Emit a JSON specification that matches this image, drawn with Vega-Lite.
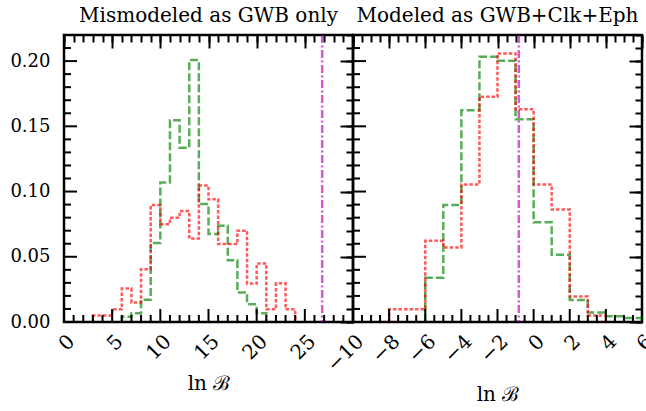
{
  "$schema": "https://vega.github.io/schema/vega-lite/v6.json",
  "padding": {"left": 8, "top": 4, "right": 5, "bottom": 2},
  "bounds": "flush",
  "background": "white",
  "config": {
    "view": {"stroke": "black", "strokeWidth": 2.5},
    "concat": {"spacing": 0},
    "axis": {
      "domain": false, "grid": false, "ticks": true,
      "tickColor": "black", "tickWidth": 2,
      "labelFont": "DejaVu Serif", "labelFontSize": 18, "labelColor": "black",
      "titleFont": "DejaVu Serif", "titleFontSize": 20, "titleColor": "black", "titleFontWeight": "normal",
      "labelFlush": false, "labelOverlap": false, "labelBound": false
    },
    "title": {"font": "DejaVu Serif", "fontSize": 20, "fontWeight": "normal", "color": "black", "offset": 8}
  },
  "datasets": {
    "left": [
      {"s": "g", "x": 6, "y": 0}, {"s": "g", "x": 6, "y": 0.004}, {"s": "g", "x": 7, "y": 0.0067}, {"s": "g", "x": 8, "y": 0.017},
      {"s": "g", "x": 9, "y": 0.0605}, {"s": "g", "x": 10, "y": 0.107}, {"s": "g", "x": 11, "y": 0.1546}, {"s": "g", "x": 12, "y": 0.1336},
      {"s": "g", "x": 13, "y": 0.2008}, {"s": "g", "x": 14, "y": 0.0905}, {"s": "g", "x": 15, "y": 0.0674}, {"s": "g", "x": 16, "y": 0.0738},
      {"s": "g", "x": 17, "y": 0.0474}, {"s": "g", "x": 18, "y": 0.0226}, {"s": "g", "x": 19, "y": 0.0136}, {"s": "g", "x": 20, "y": 0.0067},
      {"s": "g", "x": 21, "y": 0},
      {"s": "r", "x": 3, "y": 0}, {"s": "r", "x": 3, "y": 0.005}, {"s": "r", "x": 4, "y": 0.005}, {"s": "r", "x": 5, "y": 0.0097},
      {"s": "r", "x": 6, "y": 0.0256}, {"s": "r", "x": 7, "y": 0.015}, {"s": "r", "x": 8, "y": 0.0405}, {"s": "r", "x": 9, "y": 0.0897},
      {"s": "r", "x": 10, "y": 0.075}, {"s": "r", "x": 11, "y": 0.08}, {"s": "r", "x": 12, "y": 0.085}, {"s": "r", "x": 13, "y": 0.064},
      {"s": "r", "x": 14, "y": 0.1046}, {"s": "r", "x": 15, "y": 0.094}, {"s": "r", "x": 16, "y": 0.0597}, {"s": "r", "x": 17, "y": 0.0597},
      {"s": "r", "x": 18, "y": 0.07}, {"s": "r", "x": 19, "y": 0.0295}, {"s": "r", "x": 20, "y": 0.0449}, {"s": "r", "x": 21, "y": 0.0097},
      {"s": "r", "x": 22, "y": 0.0297}, {"s": "r", "x": 23, "y": 0.0097}, {"s": "r", "x": 24, "y": 0}
    ],
    "right": [
      {"s": "g", "x": -6, "y": 0}, {"s": "g", "x": -6, "y": 0.034}, {"s": "g", "x": -5, "y": 0.0897}, {"s": "g", "x": -4, "y": 0.1623},
      {"s": "g", "x": -3, "y": 0.2033}, {"s": "g", "x": -2, "y": 0.2003}, {"s": "g", "x": -1, "y": 0.1554}, {"s": "g", "x": 0, "y": 0.0764},
      {"s": "g", "x": 1, "y": 0.0515}, {"s": "g", "x": 2, "y": 0.0169}, {"s": "g", "x": 3, "y": 0.0072}, {"s": "g", "x": 4, "y": 0.0045},
      {"s": "g", "x": 5, "y": 0.003}, {"s": "g", "x": 6, "y": 0},
      {"s": "r", "x": -8, "y": 0}, {"s": "r", "x": -8, "y": 0.0097}, {"s": "r", "x": -7, "y": 0.0097}, {"s": "r", "x": -6, "y": 0.0623},
      {"s": "r", "x": -5, "y": 0.0572}, {"s": "r", "x": -4, "y": 0.1054}, {"s": "r", "x": -3, "y": 0.1726}, {"s": "r", "x": -2, "y": 0.2059},
      {"s": "r", "x": -1, "y": 0.163}, {"s": "r", "x": 0, "y": 0.1054}, {"s": "r", "x": 1, "y": 0.0862}, {"s": "r", "x": 2, "y": 0.0195},
      {"s": "r", "x": 3, "y": 0.005}, {"s": "r", "x": 4, "y": 0}
    ],
    "xticksLeft": [
      {"t": 0, "major": true}, {"t": 1, "major": false}, {"t": 2, "major": false}, {"t": 3, "major": false}, {"t": 4, "major": false},
      {"t": 5, "major": true}, {"t": 6, "major": false}, {"t": 7, "major": false}, {"t": 8, "major": false}, {"t": 9, "major": false},
      {"t": 10, "major": true}, {"t": 11, "major": false}, {"t": 12, "major": false}, {"t": 13, "major": false}, {"t": 14, "major": false},
      {"t": 15, "major": true}, {"t": 16, "major": false}, {"t": 17, "major": false}, {"t": 18, "major": false}, {"t": 19, "major": false},
      {"t": 20, "major": true}, {"t": 21, "major": false}, {"t": 22, "major": false}, {"t": 23, "major": false}, {"t": 24, "major": false},
      {"t": 25, "major": true}, {"t": 26, "major": false}, {"t": 27, "major": false}, {"t": 28, "major": false}, {"t": 29, "major": false},
      {"t": 30, "major": true}
    ],
    "xticksRight": [
      {"t": -10, "major": true}, {"t": -9.5, "major": false}, {"t": -9, "major": false}, {"t": -8.5, "major": false},
      {"t": -8, "major": true}, {"t": -7.5, "major": false}, {"t": -7, "major": false}, {"t": -6.5, "major": false},
      {"t": -6, "major": true}, {"t": -5.5, "major": false}, {"t": -5, "major": false}, {"t": -4.5, "major": false},
      {"t": -4, "major": true}, {"t": -3.5, "major": false}, {"t": -3, "major": false}, {"t": -2.5, "major": false},
      {"t": -2, "major": true}, {"t": -1.5, "major": false}, {"t": -1, "major": false}, {"t": -0.5, "major": false},
      {"t": 0, "major": true}, {"t": 0.5, "major": false}, {"t": 1, "major": false}, {"t": 1.5, "major": false},
      {"t": 2, "major": true}, {"t": 2.5, "major": false}, {"t": 3, "major": false}, {"t": 3.5, "major": false},
      {"t": 4, "major": true}, {"t": 4.5, "major": false}, {"t": 5, "major": false}, {"t": 5.5, "major": false},
      {"t": 6, "major": true}
    ],
    "yticks": [
      {"t": 0, "major": true}, {"t": 0.01, "major": false}, {"t": 0.02, "major": false}, {"t": 0.03, "major": false}, {"t": 0.04, "major": false},
      {"t": 0.05, "major": true}, {"t": 0.06, "major": false}, {"t": 0.07, "major": false}, {"t": 0.08, "major": false}, {"t": 0.09, "major": false},
      {"t": 0.1, "major": true}, {"t": 0.11, "major": false}, {"t": 0.12, "major": false}, {"t": 0.13, "major": false}, {"t": 0.14, "major": false},
      {"t": 0.15, "major": true}, {"t": 0.16, "major": false}, {"t": 0.17, "major": false}, {"t": 0.18, "major": false}, {"t": 0.19, "major": false},
      {"t": 0.2, "major": true}, {"t": 0.21, "major": false}, {"t": 0.22, "major": false}
    ]
  },
  "hconcat": [
    {
      "width": 289, "height": 287,
      "title": "Mismodeled as GWB only",
      "data": {"name": "left"},
      "resolve": {"axis": {"x": "independent", "y": "independent"}},
      "layer": [
        {
          "transform": [{"filter": "datum.s === 'g'"}],
          "mark": {"type": "line", "interpolate": "step-after", "color": "green", "opacity": 0.65, "strokeWidth": 2.5, "strokeDash": [8, 3]},
          "encoding": {
            "x": {"field": "x", "type": "quantitative", "scale": {"domain": [0, 30], "nice": false, "zero": false},
                  "axis": {"orient": "bottom", "values": [0, 5, 10, 15, 20, 25], "format": "d", "ticks": false,
                           "labelAngle": -45, "labelFontSize": 20, "labelPadding": 9, "titlePadding": 10, "title": "ln ℬ"}},
            "y": {"field": "y", "type": "quantitative", "scale": {"domain": [0, 0.22], "nice": false},
                  "axis": {"orient": "left", "values": [0, 0.05, 0.1, 0.15, 0.2], "format": ".2f", "ticks": false,
                           "labelPadding": 14, "title": null}},
            "order": {"value": null}
          }
        },
        {
          "transform": [{"filter": "datum.s === 'r'"}],
          "mark": {"type": "line", "interpolate": "step-after", "color": "red", "opacity": 0.65, "strokeWidth": 2.5, "strokeDash": [3.5, 2]},
          "encoding": {
            "x": {"field": "x", "type": "quantitative",
                  "axis": {"orient": "top", "values": [0, 5, 10, 15, 20, 25, 30], "labels": false, "title": null, "tickSize": 13, "offset": -13}},
            "y": {"field": "y", "type": "quantitative",
                  "axis": {"orient": "right", "values": [0, 0.05, 0.1, 0.15, 0.2], "labels": false, "title": null, "tickSize": 13, "offset": -13}},
            "order": {"value": null}
          }
        },
        {
          "mark": {"type": "point", "opacity": 0},
          "encoding": {
            "x": {"field": "x", "type": "quantitative",
                  "axis": {"orient": "top", "values": [0,1,2,3,4,5,6,7,8,9,10,11,12,13,14,15,16,17,18,19,20,21,22,23,24,25,26,27,28,29,30],
                           "labels": false, "title": null, "tickSize": 7, "offset": -7}},
            "y": {"field": "y", "type": "quantitative",
                  "axis": {"orient": "right", "values": [0,0.01,0.02,0.03,0.04,0.05,0.06,0.07,0.08,0.09,0.1,0.11,0.12,0.13,0.14,0.15,0.16,0.17,0.18,0.19,0.2,0.21,0.22],
                           "labels": false, "title": null, "tickSize": 7, "offset": -7}}
          }
        },
        {
          "data": {"name": "xticksLeft"},
          "mark": {"type": "tick", "orient": "vertical", "color": "black", "opacity": 1, "thickness": 2, "size": 14, "clip": true},
          "encoding": {
            "x": {"field": "t", "type": "quantitative", "axis": null},
            "y": {"datum": 0, "type": "quantitative", "axis": null},
            "size": {"condition": {"test": "datum.major", "value": 26}, "value": 14}
          }
        },
        {
          "data": {"name": "yticks"},
          "mark": {"type": "tick", "orient": "horizontal", "color": "black", "opacity": 1, "thickness": 2, "size": 14, "clip": true},
          "encoding": {
            "y": {"field": "t", "type": "quantitative", "axis": null},
            "x": {"datum": 0, "type": "quantitative", "axis": null},
            "size": {"condition": {"test": "datum.major", "value": 26}, "value": 14}
          }
        },
        {
          "data": {"values": [{"x": 26.8}]},
          "mark": {"type": "rule", "color": "#bf00bf", "opacity": 0.65, "strokeWidth": 2.5, "strokeDash": [8, 2.5, 2, 2.5]},
          "encoding": {"x": {"field": "x", "type": "quantitative", "axis": null}}
        }
      ]
    },
    {
      "width": 289, "height": 287,
      "title": "Modeled as GWB+Clk+Eph",
      "data": {"name": "right"},
      "resolve": {"axis": {"x": "independent", "y": "independent"}},
      "layer": [
        {
          "transform": [{"filter": "datum.s === 'g'"}],
          "mark": {"type": "line", "interpolate": "step-after", "color": "green", "opacity": 0.65, "strokeWidth": 2.5, "strokeDash": [8, 3]},
          "encoding": {
            "x": {"field": "x", "type": "quantitative", "scale": {"domain": [-10, 6], "nice": false, "zero": false},
                  "axis": {"orient": "bottom", "values": [-10, -8, -6, -4, -2, 0, 2, 4, 6], "format": "d", "ticks": false,
                           "labelAngle": -45, "labelFontSize": 20, "labelPadding": 9, "titlePadding": 10, "title": "ln ℬ"}},
            "y": {"field": "y", "type": "quantitative", "scale": {"domain": [0, 0.22], "nice": false}, "axis": null},
            "order": {"value": null}
          }
        },
        {
          "transform": [{"filter": "datum.s === 'r'"}],
          "mark": {"type": "line", "interpolate": "step-after", "color": "red", "opacity": 0.65, "strokeWidth": 2.5, "strokeDash": [3.5, 2]},
          "encoding": {
            "x": {"field": "x", "type": "quantitative",
                  "axis": {"orient": "top", "values": [-10, -8, -6, -4, -2, 0, 2, 4, 6], "labels": false, "title": null, "tickSize": 13, "offset": -13}},
            "y": {"field": "y", "type": "quantitative",
                  "axis": {"orient": "right", "values": [0, 0.05, 0.1, 0.15, 0.2], "labels": false, "title": null, "tickSize": 13, "offset": -13}},
            "order": {"value": null}
          }
        },
        {
          "mark": {"type": "point", "opacity": 0},
          "encoding": {
            "x": {"field": "x", "type": "quantitative",
                  "axis": {"orient": "top", "values": [-10,-9.5,-9,-8.5,-8,-7.5,-7,-6.5,-6,-5.5,-5,-4.5,-4,-3.5,-3,-2.5,-2,-1.5,-1,-0.5,0,0.5,1,1.5,2,2.5,3,3.5,4,4.5,5,5.5,6],
                           "labels": false, "title": null, "tickSize": 7, "offset": -7}},
            "y": {"field": "y", "type": "quantitative",
                  "axis": {"orient": "right", "values": [0,0.01,0.02,0.03,0.04,0.05,0.06,0.07,0.08,0.09,0.1,0.11,0.12,0.13,0.14,0.15,0.16,0.17,0.18,0.19,0.2,0.21,0.22],
                           "labels": false, "title": null, "tickSize": 7, "offset": -7}}
          }
        },
        {
          "data": {"name": "xticksRight"},
          "mark": {"type": "tick", "orient": "vertical", "color": "black", "opacity": 1, "thickness": 2, "size": 14, "clip": true},
          "encoding": {
            "x": {"field": "t", "type": "quantitative", "axis": null},
            "y": {"datum": 0, "type": "quantitative", "axis": null},
            "size": {"condition": {"test": "datum.major", "value": 26}, "value": 14}
          }
        },
        {
          "data": {"name": "yticks"},
          "mark": {"type": "tick", "orient": "horizontal", "color": "black", "opacity": 1, "thickness": 2, "size": 14, "clip": true},
          "encoding": {
            "y": {"field": "t", "type": "quantitative", "axis": null},
            "x": {"datum": -10, "type": "quantitative", "axis": null},
            "size": {"condition": {"test": "datum.major", "value": 26}, "value": 14}
          }
        },
        {
          "data": {"values": [{"x": -0.82}]},
          "mark": {"type": "rule", "color": "#bf00bf", "opacity": 0.65, "strokeWidth": 2.5, "strokeDash": [8, 2.5, 2, 2.5]},
          "encoding": {"x": {"field": "x", "type": "quantitative", "axis": null}}
        }
      ]
    }
  ]
}
